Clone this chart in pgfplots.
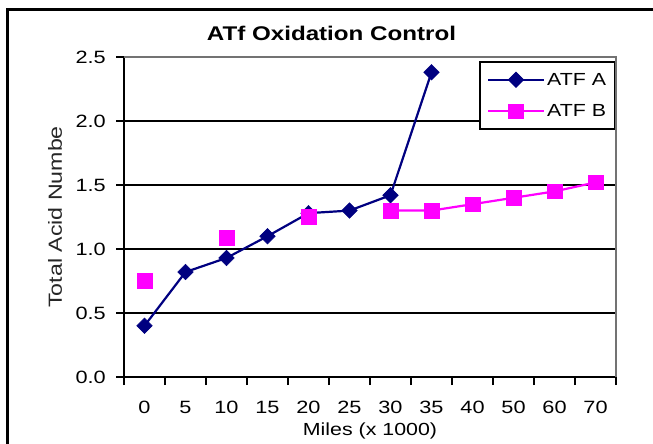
\documentclass[border=0pt]{standalone}
\usepackage{fontspec}
\setmainfont{Liberation Sans}[FakeStretch=1.22]
\usepackage{pgfplots}
\pgfplotsset{compat=1.18}
\definecolor{atfa}{RGB}{0,0,128}
\definecolor{atfb}{RGB}{255,0,255}
\begin{document}
\begin{tikzpicture}
\useasboundingbox (-124bp,-67bp) rectangle (529bp,377bp);
\begin{axis}[
  scale only axis, width=492bp, height=320bp,
  xmin=-0.5, xmax=11.5, ymin=0, ymax=2.5,
  axis lines*=left,
  axis line style={line width=2.5bp, black},
  clip=false,
  unbounded coords=jump,
  xtick={0,1,2,3,4,5,6,7,8,9,10,11},
  xticklabels={0,5,10,15,20,25,30,35,40,50,60,70},
  minor xtick={-0.5,0.5,1.5,2.5,3.5,4.5,5.5,6.5,7.5,8.5,9.5,10.5,11.5},
  major x tick style={draw=none},
  minor x tick style={black, line width=2bp},
  minor tick length=8bp,
  major tick length=8bp,
  tick align=outside,
  ytick={0,0.5,1,1.5,2,2.5},
  yticklabels={0.0,0.5,1.0,1.5,2.0,2.5},
  major y tick style={black, line width=2bp},
  ymajorgrids,
  major grid style={black, line width=2.5bp},
  tick label style={font=\fontsize{17.8bp}{20bp}\selectfont},
  xticklabel style={anchor=base, yshift=-28bp},
  yticklabel style={anchor=east, inner sep=0pt, xshift=-10bp},
  title={ATf Oxidation Control},
  title style={font=\fontsize{19.8bp}{23bp}\selectfont\bfseries, anchor=base, at={(axis description cs:0.4217,1)}, yshift=11bp},
  xlabel={Miles (x 1000)},
  xlabel style={font=\fontsize{17.5bp}{20bp}\selectfont, at={(axis description cs:0.5,0)}, anchor=base, yshift=-58bp},
  ylabel={Total Acid Numbe},
  ylabel style={font=\fontsize{19bp}{21bp}\selectfont, color=black!85, at={(axis description cs:-0.1402,0.5)}, anchor=center},
  legend style={at={(axis description cs:1,1)}, anchor=north east, yshift=-5bp, xshift=-1bp, outer sep=0pt, draw=black, line width=2bp,
    font=\fontsize{17.5bp}{20bp}\selectfont, inner xsep=7bp, inner ysep=9bp, row sep=14bp, fill=white},
  legend cell align=left,
  legend image code/.code={\draw[mark repeat=2, mark phase=2] plot coordinates {(0bp,0bp) (28bp,0bp) (56bp,0bp)};},
]
\addplot[color=atfa, line width=2.2bp, mark=square*, mark size=5.5bp, mark options={rotate=45, fill=atfa, draw=atfa, line width=0.5bp}]
  coordinates {(0,0.40) (1,0.82) (2,0.93) (3,1.10) (4,1.28) (5,1.30) (6,1.42) (7,2.38)};
\addlegendentry{ATF A}
\addplot[color=atfb, line width=2.2bp, mark=square*, mark size=7.3bp, mark options={fill=atfb, draw=atfb, line width=0.5bp}]
  coordinates {(0,0.75) (1,nan) (2,1.09) (3,nan) (4,1.25) (5,nan) (6,1.30) (7,1.30) (8,1.35) (9,1.40) (10,1.45) (11,1.52)};
\addlegendentry{ATF B}
\end{axis}
\draw[black!55, line width=2.5bp] (0bp,320bp) -- (492bp,320bp) -- (492bp,0bp);
\draw[black, line width=3bp] (-116bp,-80bp) -- (-116bp,367bp) -- (540bp,367bp);
\end{tikzpicture}
\end{document}
